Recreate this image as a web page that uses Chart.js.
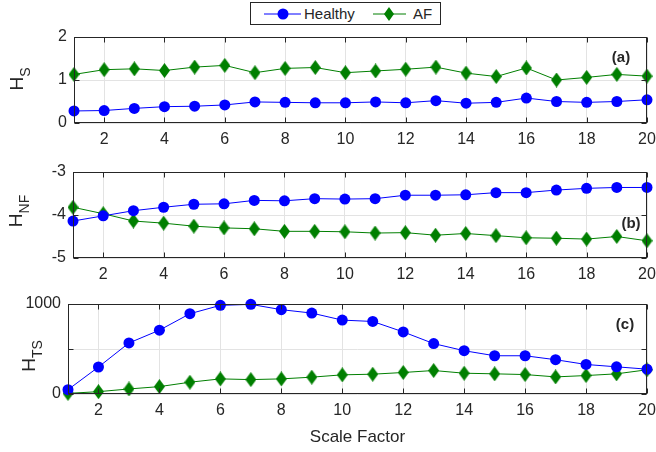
<!DOCTYPE html>
<html>
<head>
<meta charset="utf-8">
<script src="https://cdn.jsdelivr.net/npm/chart.js@4.4.1/dist/chart.umd.min.js"></script>
<style>
  html, body { margin: 0; padding: 0; background: #fff; }
  body { width: 656px; height: 452px; position: relative; overflow: hidden;
         font-family: "Liberation Sans", Arial, sans-serif; color: #262626; }
  .panel { position: absolute; left: 0; width: 656px; }
  #legend { position: absolute; left: 250px; top: 2px; width: 189px; height: 21px;
            border: 1px solid #262626; font-size: 15px; }
  #legend span { position: absolute; top: 2px; }
</style>
</head>
<body>
<div id="legend">
  <svg width="189" height="21" style="position:absolute;left:0;top:0">
    <line x1="13" y1="11" x2="50" y2="11" stroke="#0000ff" stroke-width="1"/>
    <circle cx="32" cy="11" r="5.5" fill="#0000ff"/>
    <line x1="122" y1="11" x2="155" y2="11" stroke="#007f00" stroke-width="1"/>
    <polygon points="138,4 143,11 138,18 133,11" fill="#007f00"/>
  </svg>
  <span style="left:53px">Healthy</span>
  <span style="left:162px">AF</span>
</div>
<div class="panel" style="top:27px;height:126px"><canvas id="cA"></canvas></div>
<div class="panel" style="top:162px;height:126px"><canvas id="cB"></canvas></div>
<div class="panel" style="top:294px;height:158px"><canvas id="cC"></canvas></div>
<script>
// 三個子圖：H_S / H_NF / H_TS vs scale factor
const SCALE = [1,2,3,4,5,6,7,8,9,10,11,12,13,14,15,16,17,18,19,20];
const X_TICKS = [2,4,6,8,10,12,14,16,18,20];

const HS_HEALTHY = [0.28,0.29,0.34,0.38,0.39,0.42,0.49,0.48,0.47,0.47,0.49,0.47,0.52,0.46,0.48,0.58,0.50,0.48,0.50,0.54];
const HS_AF      = [1.13,1.24,1.26,1.22,1.30,1.34,1.17,1.27,1.29,1.17,1.21,1.25,1.30,1.16,1.08,1.28,1.00,1.06,1.13,1.09];

const HNF_HEALTHY = [-4.14,-4.02,-3.90,-3.82,-3.75,-3.74,-3.66,-3.67,-3.62,-3.63,-3.62,-3.54,-3.54,-3.53,-3.48,-3.48,-3.42,-3.38,-3.36,-3.36];
const HNF_AF      = [-3.82,-3.97,-4.14,-4.19,-4.26,-4.30,-4.32,-4.38,-4.38,-4.39,-4.42,-4.41,-4.47,-4.43,-4.48,-4.53,-4.54,-4.56,-4.50,-4.60];

const HTS_HEALTHY = [48,300,567,709,892,985,996,937,899,821,806,690,560,481,425,425,381,328,302,276];
const HTS_AF      = [7,26,56,82,131,168,160,168,187,213,220,239,261,231,224,216,190,205,224,269];

const BLUE = '#0000ff', GREEN = '#007f00', INK = '#262626', GRID = '#e3e3e3';
const FONT = '"Liberation Sans", Arial, sans-serif';

// MATLAB 'd' marker: taller than wide
function diamond(w, h, color) {
  const c = document.createElement('canvas');
  c.width = w; c.height = h;
  const g = c.getContext('2d');
  g.fillStyle = color;
  g.beginPath();
  g.moveTo(w/2, 0); g.lineTo(w, h/2); g.lineTo(w/2, h); g.lineTo(0, h/2);
  g.closePath(); g.fill();
  return c;
}
const DIAMOND = diamond(11, 15, GREEN);

// 外框 + 內向刻度 + 子圖標籤 + y 軸標題(含下標)
const decor = {
  id: 'decor',
  afterDraw(chart, args, o) {
    const { ctx, chartArea: a, scales } = chart;
    ctx.save();
    ctx.strokeStyle = INK; ctx.lineWidth = 1;
    const L = Math.round(a.left) + 0.5, R = Math.round(a.right) - 0.5;
    const T = Math.round(a.top) + 0.5, B = Math.round(a.bottom) - 0.5;
    ctx.beginPath();
    for (const v of X_TICKS) {
      const px = Math.round(scales.x.getPixelForValue(v)) + 0.5;
      ctx.moveTo(px, T); ctx.lineTo(px, T + 5);
      ctx.moveTo(px, B); ctx.lineTo(px, B - 5);
    }
    for (const t of scales.y.ticks) {
      const py = Math.round(scales.y.getPixelForValue(t.value)) + 0.5;
      ctx.moveTo(L, py); ctx.lineTo(L + 5, py);
      ctx.moveTo(R, py); ctx.lineTo(R - 5, py);
    }
    ctx.stroke();
    ctx.strokeRect(L, T, R - L, B - T);

    ctx.fillStyle = INK;
    ctx.font = 'bold 15px ' + FONT;
    ctx.textAlign = 'center'; ctx.textBaseline = 'middle';
    ctx.fillText(o.tag, o.tagX, o.tagY);

    ctx.translate(o.titleX, o.titleY);
    ctx.rotate(-Math.PI / 2);
    ctx.textAlign = 'left'; ctx.textBaseline = 'alphabetic';
    ctx.font = '19px ' + FONT;
    const wH = ctx.measureText('H').width;
    ctx.font = '14px ' + FONT;
    const wS = ctx.measureText(o.sub).width;
    const x0 = -(wH + wS) / 2;
    ctx.font = '19px ' + FONT;
    ctx.fillText('H', x0, 0);
    ctx.font = '14px ' + FONT;
    ctx.fillText(o.sub, x0 + wH, 7);
    ctx.restore();
  }
};

function panel(id, opt) {
  const showTitle = !!opt.xTitle;
  return new Chart(document.getElementById(id), {
    type: 'line',
    data: {
      labels: SCALE,
      datasets: [
        { label: 'Healthy', data: SCALE.map((x, i) => ({ x, y: opt.healthy[i] })),
          borderColor: BLUE, backgroundColor: BLUE, borderWidth: 1,
          pointStyle: 'circle', pointRadius: 5.5, pointBorderWidth: 0, clip: false },
        { label: 'AF', data: SCALE.map((x, i) => ({ x, y: opt.af[i] })),
          borderColor: GREEN, backgroundColor: GREEN, borderWidth: 1,
          pointStyle: DIAMOND, pointRadius: 7, clip: false },
      ]
    },
    options: {
      responsive: true, maintainAspectRatio: false, animation: false,
      layout: { padding: { top: 10, right: 9, left: 0, bottom: 0 } },
      plugins: {
        legend: { display: false }, tooltip: { enabled: false },
        decor: opt.decor,
      },
      scales: {
        x: {
          type: 'linear', min: 1, max: 20,
          afterBuildTicks: s => { s.ticks = X_TICKS.map(v => ({ value: v })); },
          afterFit: s => { s.height = opt.xHeight; s.paddingLeft = 0; s.paddingRight = 0; },
          grid: { color: GRID, drawTicks: false },
          border: { display: false },
          ticks: { color: INK, font: { family: FONT, size: 16 }, padding: 7, maxRotation: 0 },
          title: { display: showTitle, text: opt.xTitle || '', color: INK,
                   font: { family: FONT, size: 17 }, padding: { top: 4, bottom: 4 } },
        },
        y: {
          min: opt.yMin, max: opt.yMax,
          ticks: { stepSize: opt.yStep, color: INK, font: { family: FONT, size: 16 }, padding: 7,
                   callback: opt.yLabel || (v => v) },
          afterFit: s => { s.width = opt.left; s.paddingTop = 0; s.paddingBottom = 0; },
          grid: { color: GRID, drawTicks: false },
          border: { display: false },
        }
      }
    },
    plugins: [decor]
  });
}

panel('cA', {
  healthy: HS_HEALTHY, af: HS_AF, yMin: 0, yMax: 2, yStep: 1, left: 74, xHeight: 30,
  decor: { tag: '(a)', tagX: 621, tagY: 31, sub: 'S', titleX: 23, titleY: 52 }
});
panel('cB', {
  healthy: HNF_HEALTHY, af: HNF_AF, yMin: -5, yMax: -3, yStep: 1, left: 73, xHeight: 30,
  decor: { tag: '(b)', tagX: 631, tagY: 62, sub: 'NF', titleX: 22, titleY: 49 }
});
panel('cC', {
  healthy: HTS_HEALTHY, af: HTS_AF, yMin: 0, yMax: 1000, yStep: 500, left: 68, xHeight: 58,
  yLabel: v => (v === 500 ? '' : v), xTitle: 'Scale Factor',
  decor: { tag: '(c)', tagX: 625, tagY: 31, sub: 'TS', titleX: 35, titleY: 62 }
});
</script>
</body>
</html>
